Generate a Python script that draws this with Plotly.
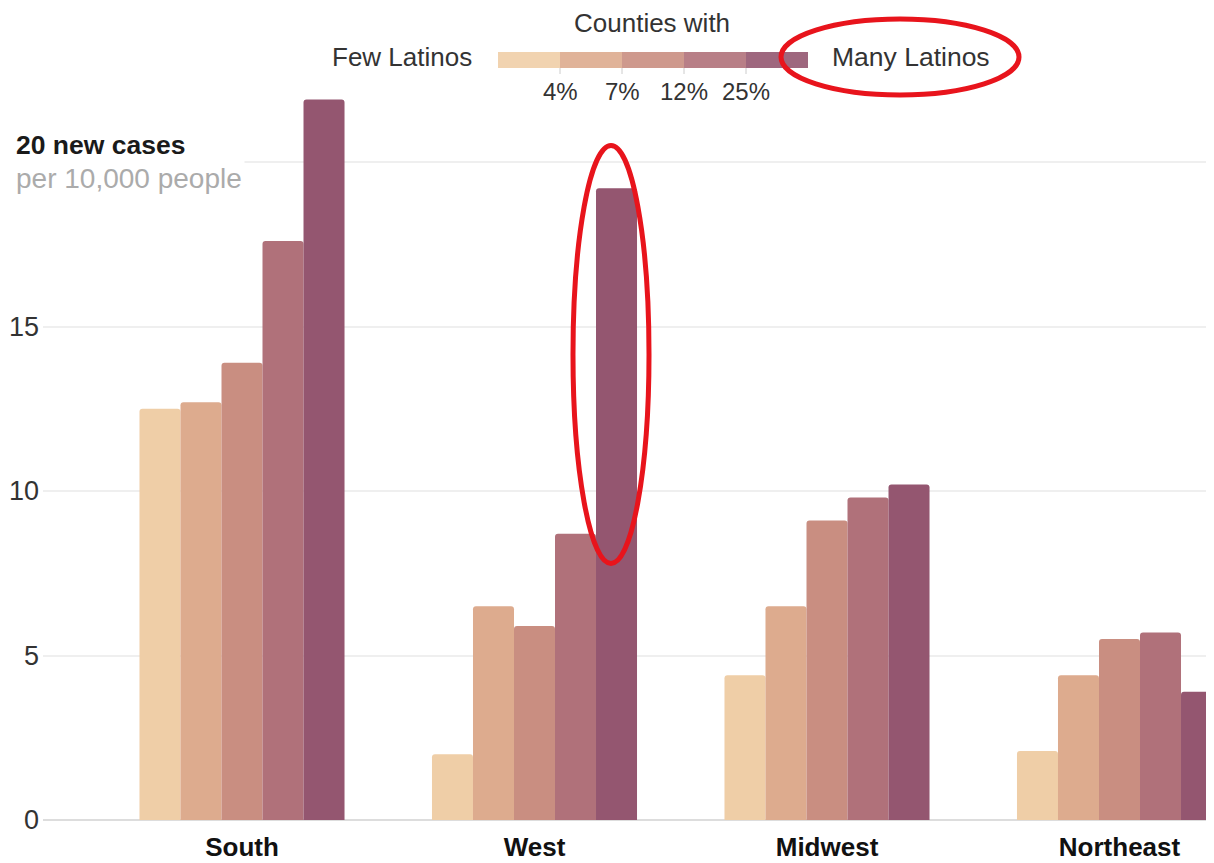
import plotly.graph_objects as go

# ---- data ----
regions = ["South", "West", "Midwest", "Northeast"]
bucket_names = ["<4%", "4–7%", "7–12%", "12–25%", ">25%"]
cases_lt4 = [12.5, 2.0, 4.4, 2.1]
cases_4_7 = [12.7, 6.5, 6.5, 4.4]
cases_7_12 = [13.9, 5.9, 9.1, 5.5]
cases_12_25 = [17.6, 8.7, 9.8, 5.7]
cases_gt25 = [21.9, 19.2, 10.2, 3.9]
series = [cases_lt4, cases_4_7, cases_7_12, cases_12_25, cases_gt25]

ytick_vals = [0, 5, 10, 15]
ytick_text = ["0", "5", "10", "15"]
legend_ticks = ["4%", "7%", "12%", "25%"]

colors = ["#EFCEA7", "#DDAB8E", "#C98E81", "#B0717A", "#945670"]

# ---- layout geometry ----
# the page shows the figure offset by the default body margin (8px)
OFF = 8
W, H = 1214, 863
L, R, T, B = 43 - OFF, 0, 90 - OFF, 863 - (820 - OFF)
PW, PH = W - L - R, H - T - B
FONT = "Liberation Sans"


def px_x(px):
    """reference-screen pixel x -> paper x"""
    return (px - OFF - L) / PW


def px_y(py):
    """reference-screen pixel y -> paper y"""
    return (H - B - (py - OFF)) / PH


# category axis: South centre at screen x=242, group pitch 292.5px
pitch = 292.5
x_min = -(242 - 43) / pitch
x_max = x_min + PW / pitch
y_max = PH / 32.9

fig = go.Figure()
for name, vals, col in zip(bucket_names, series, colors):
    fig.add_trace(go.Bar(
        x=regions, y=vals, name=name,
        marker=dict(color=col, line=dict(width=0), cornerradius=3),
        showlegend=False,
    ))

annotations = []
shapes = []

# y-axis caption for the 20 line
annotations.append(dict(
    xref="paper", yref="paper", x=px_x(13), y=px_y(162), xanchor="left", yanchor="middle",
    text="<b>20 new cases</b><br><span style='color:#ababab;font-size:28px'>per 10,000 people</span>",
    showarrow=False, align="left", bgcolor="white", borderpad=2,
    font=dict(family=FONT, size=26.5, color="#1a1a1a"),
))

# legend
annotations.append(dict(
    xref="paper", yref="paper", x=px_x(652), y=px_y(23), xanchor="center", yanchor="middle",
    text="Counties with", showarrow=False, font=dict(family=FONT, size=26, color="#333333")))
annotations.append(dict(
    xref="paper", yref="paper", x=px_x(474), y=px_y(57), xanchor="right", yanchor="middle",
    text="Few Latinos", showarrow=False, font=dict(family=FONT, size=26, color="#333333")))
annotations.append(dict(
    xref="paper", yref="paper", x=px_x(830), y=px_y(57), xanchor="left", yanchor="middle",
    text="Many Latinos", showarrow=False, font=dict(family=FONT, size=26.5, color="#333333")))

seg_w = 62
bar_x0 = 498
for i, col in enumerate(colors):
    shapes.append(dict(
        type="rect", xref="paper", yref="paper",
        x0=px_x(bar_x0 + i * seg_w), x1=px_x(bar_x0 + (i + 1) * seg_w),
        y0=px_y(68), y1=px_y(52), fillcolor=col, opacity=0.9, line=dict(width=0), layer="above"))
for i, lab in enumerate(legend_ticks):
    bx = bar_x0 + (i + 1) * seg_w
    shapes.append(dict(
        type="line", xref="paper", yref="paper", x0=px_x(bx), x1=px_x(bx),
        y0=px_y(68), y1=px_y(74), line=dict(color="#cccccc", width=1)))
    annotations.append(dict(
        xref="paper", yref="paper", x=px_x(bx), y=px_y(91), xanchor="center", yanchor="middle",
        text=lab, showarrow=False, font=dict(family=FONT, size=24, color="#333333")))

# red highlight ellipses
shapes.append(dict(
    type="circle", xref="paper", yref="paper",
    x0=px_x(781), x1=px_x(1019), y0=px_y(95), y1=px_y(19),
    line=dict(color="#E8141C", width=5), layer="above"))
shapes.append(dict(
    type="circle", xref="x", yref="y",
    x0=1.1316, x1=1.3915, y0=7.8, y1=20.5,
    line=dict(color="#E8141C", width=5), layer="above"))

fig.update_layout(
    width=W, height=H,
    margin=dict(l=L, r=R, t=T, b=B, pad=0),
    paper_bgcolor="white", plot_bgcolor="white",
    barmode="group", bargap=0.299, bargroupgap=0,
    font=dict(family=FONT, color="#333333"),
    annotations=annotations, shapes=shapes,
    xaxis=dict(
        type="category", range=[x_min, x_max], showgrid=False, zeroline=False,
        showline=False, ticks="", ticklabelstandoff=9,
        tickfont=dict(family=FONT, size=26, color="#111111", weight="bold"),
    ),
    yaxis=dict(
        range=[0, y_max], tickvals=ytick_vals + [20], ticktext=ytick_text + [""],
        showgrid=True, gridcolor="#efefef", gridwidth=1.5,
        zeroline=True, zerolinecolor="#dddddd", zerolinewidth=2,
        showline=False, ticks="", ticklabelstandoff=3,
        tickfont=dict(family=FONT, size=27, color="#333333"),
    ),
)

fig.write_html("out.html")
